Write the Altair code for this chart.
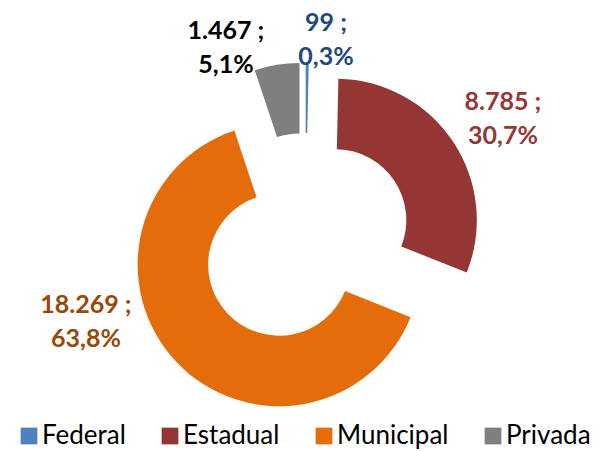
import math
import altair as alt
import pandas as pd

# ---- data ----
categories = ["Federal", "Estadual", "Municipal", "Privada"]
values = [99, 8785, 18269, 1467]

# ---- styles / layout ----
slice_colors = ["#4F81BD", "#943634", "#E46C0A", "#7F7F7F"]
label_colors = ["#1F497D", "#953735", "#984807", "#000000"]
label_pos = {  # first-line anchor of each label, plot coords
    "Federal": (318, 15),
    "Privada": (218, 23),
    "Estadual": (495, 94),
    "Municipal": (78, 297),
}

W, H = 593, 443
CX, CY = 297.3, 232.0
EXPLODE = 36
R_OUT, R_IN = 141.5, 71
FONT = "Lato"

total = sum(values)


def fmt_int(v):
    return f"{v:,}".replace(",", ".")


def fmt_pct(v):
    return f"{v / total * 100:.1f}".replace(".", ",") + "%"


df = pd.DataFrame({
    "category": categories,
    "value": values,
    "order": list(range(len(categories))),
    "label": [f"{fmt_int(v)} ;\n{fmt_pct(v)}" for v in values],
})

xscale = alt.Scale(domain=[-CX, W - CX], range=[0, W], nice=False, zero=False)
yscale = alt.Scale(domain=[-CY, H - CY], range=[0, H], nice=False, zero=False)

arcs = (
    alt.Chart(df)
    .transform_window(cum="sum(value)", sort=[alt.SortField("order")])
    .transform_calculate(
        start="datum.cum - datum.value",
        mid=f"2*PI*(datum.cum - datum.value/2)/{total}",
    )
    .transform_calculate(
        dx=f"{EXPLODE}*sin(datum.mid)",
        dy=f"-{EXPLODE}*cos(datum.mid)",
    )
    .mark_arc(outerRadius=R_OUT, innerRadius=R_IN)
    .encode(
        theta=alt.Theta("start:Q", scale=alt.Scale(domain=[0, total], range=[0, 2 * math.pi])),
        theta2="cum:Q",
        x=alt.X("dx:Q", scale=xscale, axis=None),
        y=alt.Y("dy:Q", scale=yscale, axis=None),
        color=alt.Color(
            "category:N",
            scale=alt.Scale(domain=categories, range=slice_colors),
            legend=alt.Legend(
                title=None,
                orient="none",
                legendX=8,
                legendY=415,
                direction="horizontal",
                symbolType="square",
                symbolSize=280,
                symbolStrokeWidth=0,
                labelFont=FONT,
                labelFontSize=26,
                labelColor="#000000",
                labelOffset=0,
                columnPadding=31,
                symbolOpacity=1,
            ),
        ),
        order=alt.Order("order:Q"),
    )
)

label_layers = []
for cat, col in zip(categories, label_colors):
    px, py = label_pos[cat]
    label_layers.append(
        alt.Chart(df)
        .transform_filter(alt.datum.category == cat)
        .mark_text(
            font=FONT,
            fontSize=25,
            fontWeight="bold",
            align="center",
            baseline="middle",
            lineBreak="\n",
            lineHeight=34,
            color=col,
        )
        .encode(text="label:N", x=alt.value(px), y=alt.value(py))
    )

chart = (
    alt.layer(arcs, *label_layers)
    .properties(width=W, height=H, padding=0, autosize=alt.AutoSizeParams(type="none"))
    .configure_view(stroke=None)
)

chart.save("out.html", embed_options={"renderer": "svg", "actions": False})
